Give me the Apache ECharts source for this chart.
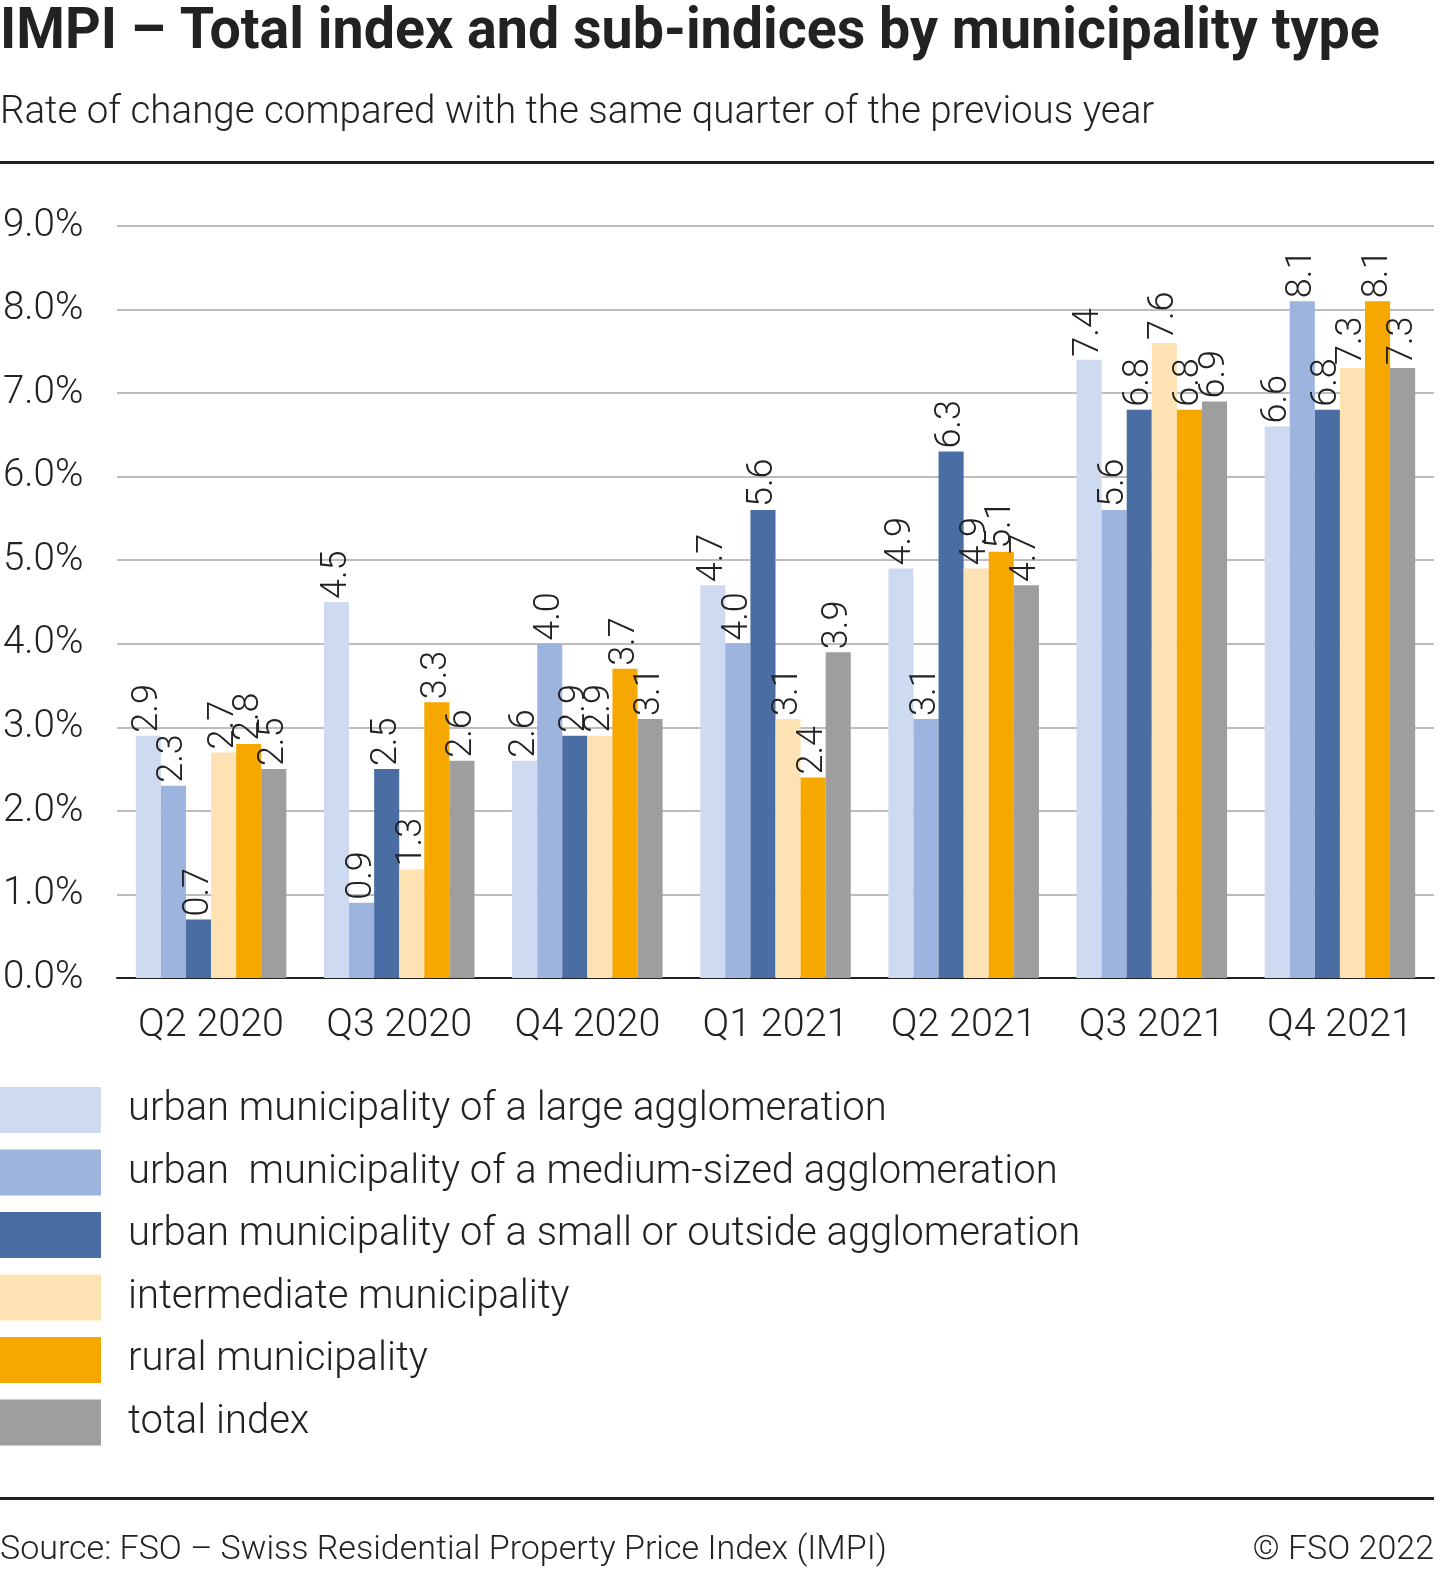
<!DOCTYPE html>
<html><head><meta charset="utf-8">
<script src="https://cdn.jsdelivr.net/npm/echarts@6/dist/echarts.min.js"></script>
<style>html,body{margin:0;padding:0;background:#fff;overflow:hidden;width:1451px;height:1587px}#c{position:absolute;left:0;top:0;width:1451px;height:1587px}</style>
</head><body><div id="c"></div>
<script>
const categories = ['Q2 2020','Q3 2020','Q4 2020','Q1 2021','Q2 2021','Q3 2021','Q4 2021'];
const seriesNames = [
  'urban municipality of a large agglomeration',
  'urban  municipality of a medium-sized agglomeration',
  'urban municipality of a small or outside agglomeration',
  'intermediate municipality',
  'rural municipality',
  'total index'
];
const urbanLarge   = [2.9, 4.5, 2.6, 4.7, 4.9, 7.4, 6.6];
const urbanMedium  = [2.3, 0.9, 4.0, 4.0, 3.1, 5.6, 8.1];
const urbanSmall   = [0.7, 2.5, 2.9, 5.6, 6.3, 6.8, 6.8];
const intermediate = [2.7, 1.3, 2.9, 3.1, 4.9, 7.6, 7.3];
const rural        = [2.8, 3.3, 3.7, 2.4, 5.1, 6.8, 8.1];
const totalIndex   = [2.5, 2.6, 3.1, 3.9, 4.7, 6.9, 7.3];
const yTicks = [0,1,2,3,4,5,6,7,8,9];

const colors = ['#CEDAF0','#9DB5DE','#4A6EA4','#FDE2B4','#F6A700','#9E9E9E'];
const values = [urbanLarge, urbanMedium, urbanSmall, intermediate, rural, totalIndex];
const FONT = 'Roboto';

const chart = echarts.init(document.getElementById('c'), null, {renderer:'canvas', width:1451, height:1587});
const series = values.map((v,i)=>({
  name: seriesNames[i],
  type: 'bar',
  data: v,
  barGap: '0%',
  barCategoryGap: '20%',
  itemStyle: {color: colors[i]},
  label: {
    show: true, position: 'top', distance: 3, rotate: 90,
    align: 'left', verticalAlign: 'middle',
    formatter: p => p.value.toFixed(1),
    fontFamily: FONT, fontWeight: 300, fontSize: 36, color: '#222'
  }
}));

chart.setOption({
  animation: false,
  color: colors,
  grid: {left: 117, right: 17, top: 226, bottom: 609, containLabel: false},
  xAxis: {
    type: 'category', data: categories,
    axisLine: {lineStyle: {color: '#222', width: 2}},
    axisTick: {show: false},
    axisLabel: {interval: 0, hideOverlap: false, fontFamily: FONT, fontWeight: 300, fontSize: 39.5, color: '#222', margin: 28}
  },
  yAxis: {
    type: 'value', min: yTicks[0], max: yTicks[yTicks.length-1], interval: 1,
    axisLine: {show: false}, axisTick: {show: false},
    splitLine: {lineStyle: {color: '#BDBDBD', width: 2}},
    axisLabel: {fontFamily: FONT, fontWeight: 300, fontSize: 38.5, color: '#222',
      align: 'left', margin: 114, formatter: v => v.toFixed(1) + '%'}
  },
  legend: {
    orient: 'vertical', left: 0, top: 1087, padding: 0,
    itemWidth: 101, itemHeight: 46, itemGap: 16.5,
    icon: 'rect',
    textStyle: {fontFamily: FONT, fontWeight: 300, fontSize: 40, color: '#222', padding: [0,0,0,22]},
    data: seriesNames
  },
  graphic: [
    {type:'text', left: 0, top: 5, scaleX: 0.975, style:{text:'IMPI – Total index and sub-indices by municipality type',
      font: 'bold 57px Roboto', fill:'#222'}},
    {type:'text', left: 0, top: 94, style:{text:'Rate of change compared with the same quarter of the previous year',
      font: '300 38.5px Roboto', fill:'#222'}},
    {type:'rect', shape:{x:0,y:161,width:1434,height:3}, style:{fill:'#222'}},
    {type:'rect', shape:{x:0,y:1497,width:1434,height:3}, style:{fill:'#222'}},
    {type:'text', left: 0, top: 1533, style:{text:'Source: FSO – Swiss Residential Property Price Index (IMPI)',
      font: '300 34px Roboto', fill:'#222'}},
    {type:'text', right: 17, top: 1533, style:{text:'© FSO 2022',
      font: '300 34px Roboto', fill:'#222'}}
  ],
  series
});
</script></body></html>
